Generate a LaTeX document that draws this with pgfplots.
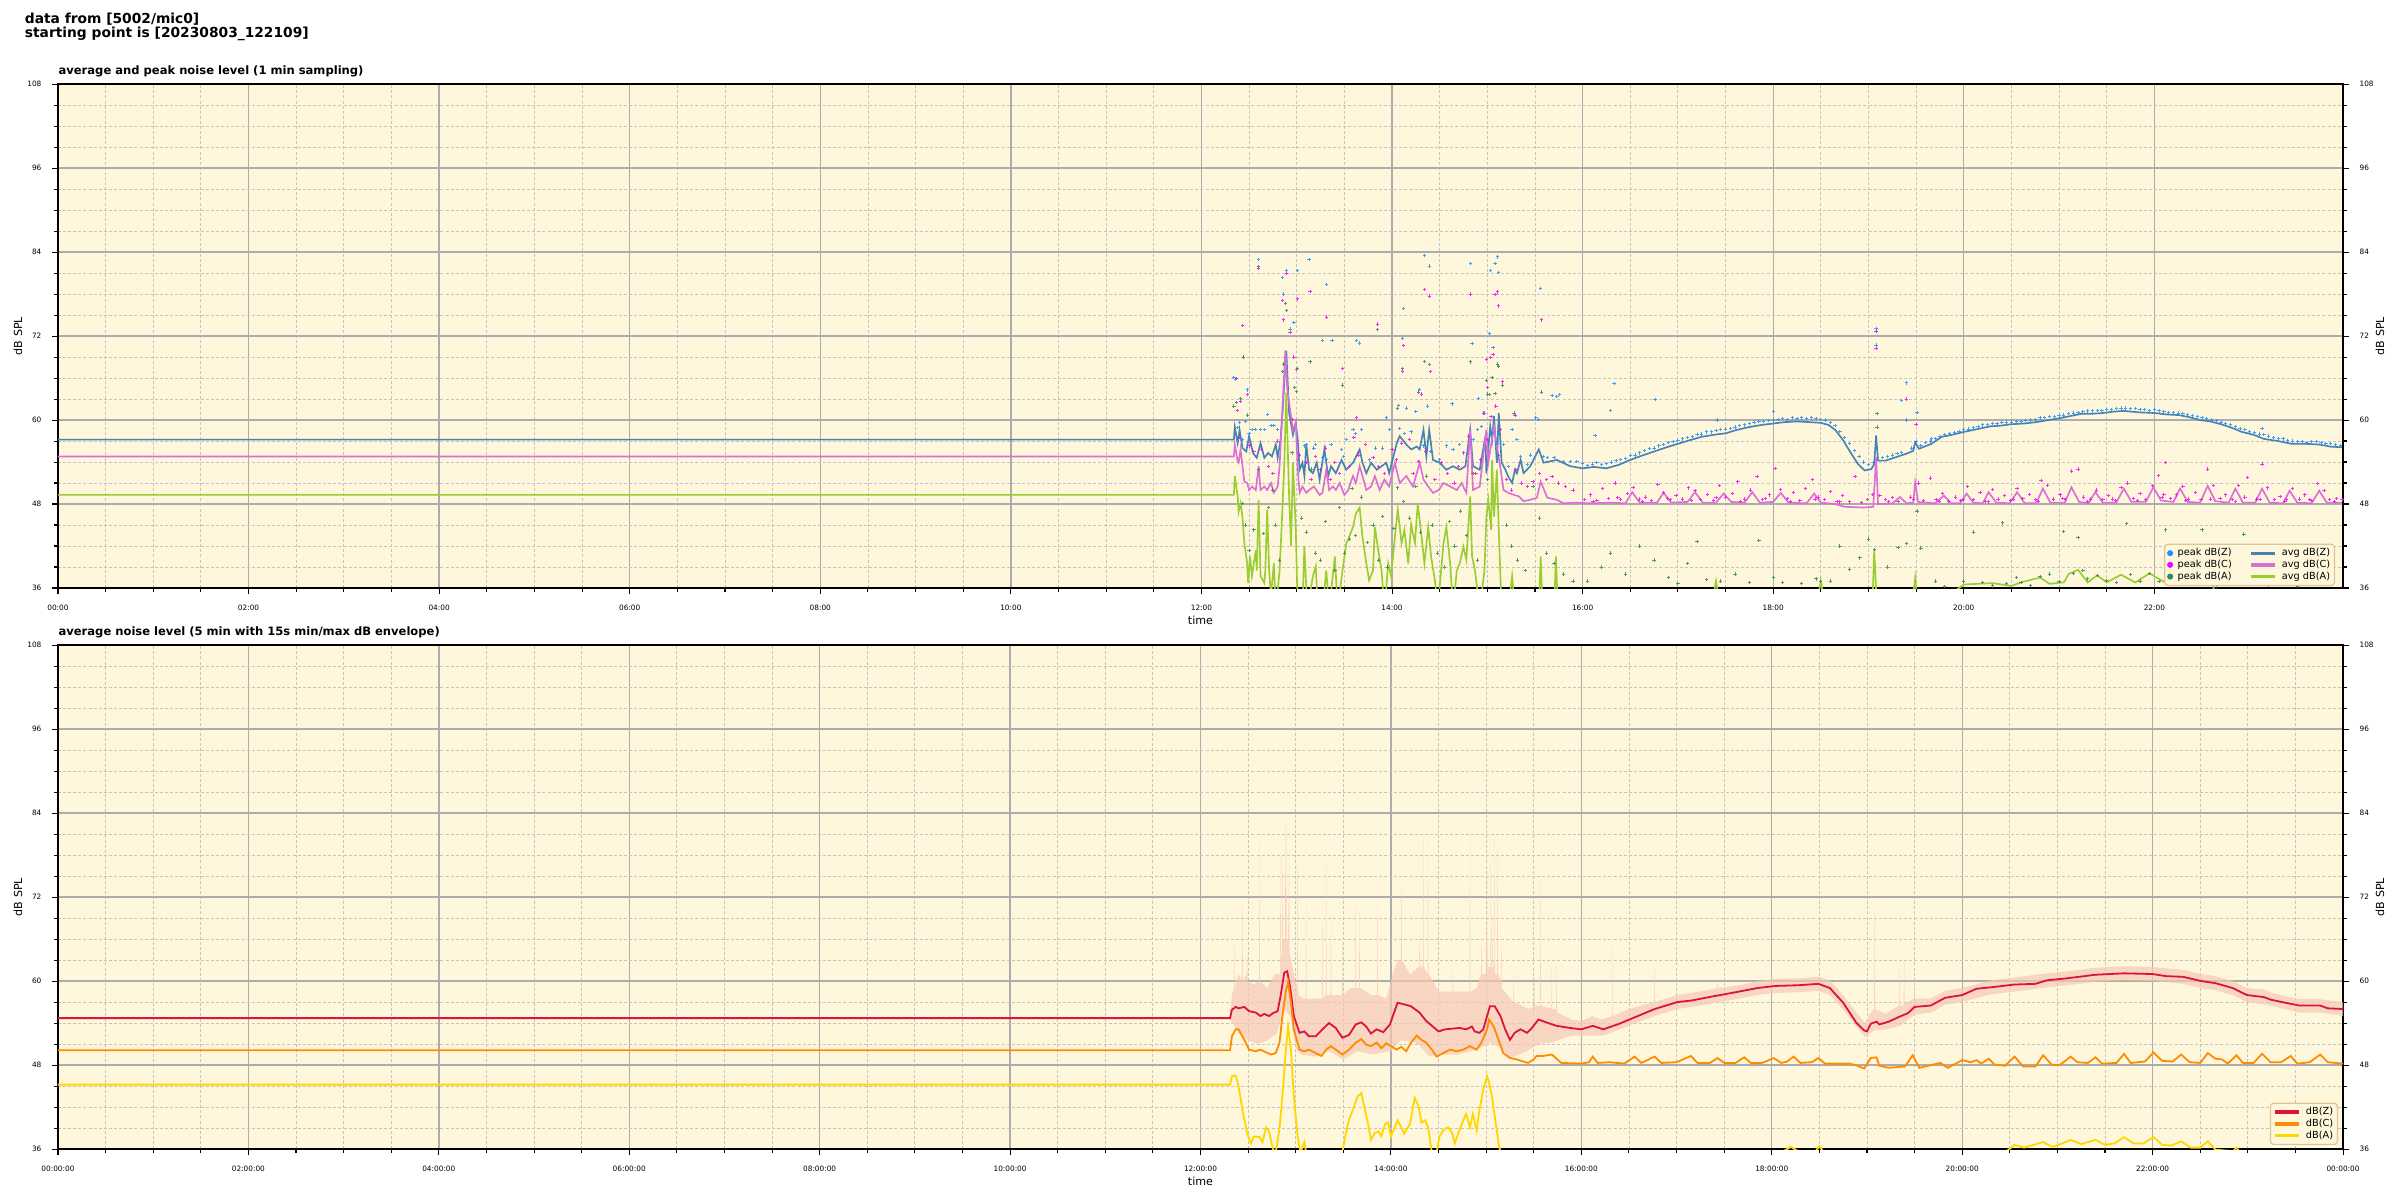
\documentclass[border=0pt]{standalone}
\usepackage{fontspec}
\setmainfont{DejaVu Sans}
\usepackage{pgfplots}
\pgfplotsset{compat=1.18}
\usepgfplotslibrary{fillbetween}
\definecolor{bgc}{RGB}{255,247,220}
\definecolor{majgrid}{RGB}{172,172,172}
\definecolor{mingrid}{RGB}{196,196,196}
\definecolor{legbrd}{RGB}{222,196,150}
\definecolor{avgZ}{RGB}{70,130,180}
\definecolor{avgC}{RGB}{218,112,214}
\definecolor{avgA}{RGB}{154,205,50}
\definecolor{pkZ}{RGB}{30,144,255}
\definecolor{pkC}{RGB}{255,0,255}
\definecolor{pkA}{RGB}{46,139,87}
\definecolor{dbZ}{RGB}{220,20,60}
\definecolor{dbC}{RGB}{255,140,0}
\definecolor{dbA}{RGB}{255,215,0}
\definecolor{env}{RGB}{246,200,182}
\pgfplotsset{
 every axis title shift=0pt,
 myaxis/.style={
  scale only axis, width=761.67pt, height=168pt,
  xmin=0, ymin=36, ymax=108,
  axis background/.style={fill=bgc},
  grid=both,
  major grid style={draw=majgrid, line width=0.45pt},
  minor grid style={draw=mingrid, line width=0.3pt, dash pattern=on 1pt off 0.7pt},
  tick align=outside, xtick pos=bottom, ytick pos=left,
  major tick length=2pt, minor tick length=1.2pt,
  every tick/.style={black, line width=0.35pt},
  minor x tick num=3, minor y tick num=3,
  ytick={36,48,60,72,84,96,108},
  axis line style={line width=0.5pt},
  ticklabel style={font=\fontsize{2.45}{3}\selectfont},
  /pgf/number format/assume math mode=true,
  xlabel=time, ylabel={dB SPL},
  every axis x label/.style={at={(axis description cs:0.5,0)}, anchor=center, yshift=-10.7pt, font=\fontsize{3.7}{4.4}\selectfont},
  every axis y label/.style={at={(axis description cs:0,0.5)}, xshift=-13.3pt, rotate=90, anchor=center, font=\fontsize{3.7}{4.4}\selectfont},
  title style={at={(axis description cs:0,1)}, anchor=base west, yshift=3.3pt, inner sep=0pt, font=\bfseries\fontsize{3.85}{4.5}\selectfont},
  legend cell align=left,
  legend image code/.code={\draw[mark repeat=2,mark phase=2] plot coordinates {(0pt,0pt) (4pt,0pt) (8pt,0pt)};},
  legend style={fill=bgc, draw=legbrd, rounded corners=1pt, line width=0.4pt,
    font=\fontsize{3.25}{3.8}\selectfont, inner sep=1pt, row sep=0pt,
    nodes={inner sep=0.4pt, text height=2.4pt, text depth=0.7pt},
    /tikz/every odd column/.style={column sep=1.3pt},
    /tikz/every even column/.style={column sep=5.5pt}},
 },
 rightaxis/.style={
  scale only axis, width=761.67pt, height=168pt,
  xmin=0, xmax=1, ymin=36, ymax=108,
  xtick=\empty, ytick pos=right, yticklabel pos=right,
  axis line style={draw=none},
  tick align=outside, major tick length=2pt, minor tick length=1.2pt,
  every tick/.style={black, line width=0.35pt},
  minor y tick num=3, ytick={36,48,60,72,84,96,108},
  ticklabel style={font=\fontsize{2.45}{3}\selectfont},
  /pgf/number format/assume math mode=true,
  ylabel={dB SPL},
  every axis y label/.style={at={(axis description cs:1,0.5)}, xshift=12.3pt, rotate=90, anchor=center, font=\fontsize{3.7}{4.4}\selectfont},
 },
 pk/.style={only marks, mark=+, mark size=0.55pt, mark options={line width=0.3pt}, opacity=0.85},
}
\begin{document}
\begin{tikzpicture}
\node[anchor=base west, inner sep=0pt, font=\bfseries\fontsize{4.6}{5}\selectfont] at (8.1pt,-7.78pt) {data from [5002/mic0]};
\node[anchor=base west, inner sep=0pt, font=\bfseries\fontsize{4.6}{5}\selectfont] at (8.1pt,-12.56pt) {starting point is [20230803\_122109]};
% ================= TOP =================
\begin{axis}[myaxis, at={(19.33pt,-196pt)}, anchor=south west, xmax=23.98,
  xtick={0,2,4,6,8,10,12,14,16,18,20,22},
  xticklabels={00:00,02:00,04:00,06:00,08:00,10:00,12:00,14:00,16:00,18:00,20:00,22:00},
  title={average and peak noise level (1 min sampling)},
  legend columns=2,
  legend style={at={(0.9965,0.004)}, anchor=south east}]
% peak dB(Z)
\addplot[pk, pkZ, forget plot] coordinates {
(12.34,66.1)(12.36,65.8)(12.38,58.9)(12.40,59.6)(12.43,57.2)(12.46,59.8)(12.48,64.3)(12.50,58.1)(12.53,58.6)(12.57,58.6)(12.60,82.9)(12.62,58.6)(12.66,58.6)(12.69,60.8)(12.73,59.2)(12.76,59.2)(12.80,58.6)
(12.85,80.4)(12.86,78.0)(12.89,81.4)(12.93,73.0)(12.97,73.9)(13.01,81.4)(13.08,56.3)(13.10,56.5)(13.13,82.9)(13.18,56.0)(13.20,56.5)(13.27,71.4)(13.27,54.6)(13.31,79.4)(13.31,54.3)(13.36,56.5)(13.37,71.4)
(13.47,55.8)(13.49,54.8)(13.52,57.2)(13.59,58.6)(13.62,58.1)(13.63,71.4)(13.66,71.0)(13.68,58.6)(13.76,54.3)(13.83,56.0)(13.90,56.0)(13.94,60.3)(13.97,58.6)(14.07,62.1)(14.08,58.8)(14.11,71.6)(14.12,75.9)
(14.13,58.1)(14.15,61.7)(14.20,58.3)(14.25,61.2)(14.29,64.4)(14.33,56.3)(14.34,83.5)(14.37,62.0)(14.39,82.0)(14.40,55.5)(14.50,54.3)(14.57,56.3)(14.63,62.3)(14.64,55.8)(14.71,56.5)(14.82,82.4)(14.84,70.9)
(14.85,57.2)(14.90,58.6)(14.91,63.1)(14.94,59.1)(14.97,61.0)(15.02,72.4)(15.03,81.4)(15.05,58.1)(15.06,70.4)(15.08,82.4)(15.10,56.7)(15.11,83.3)(15.12,81.1)(15.17,56.5)(15.22,53.4)(15.26,58.6)(15.31,57.2)
(15.35,54.8)(15.42,53.6)(15.45,55.0)(15.51,60.3)(15.54,60.1)(15.56,78.8)(15.59,54.8)(15.63,54.6)(15.68,63.5)(15.70,54.6)(15.73,63.4)(15.76,63.6)(15.80,54.1)(15.87,54.1)(15.94,54.1)
(16.13,57.8)(16.29,61.4)(16.33,65.2)(16.76,62.9)(17.41,60.0)(18.00,61.2)(19.08,73.1)(19.08,72.6)(19.08,70.7)(19.35,62.8)(19.40,65.3)(19.40,60.0)(19.51,61.1)(19.66,57.3)(23.13,58.8)
(16.00,53.8)(16.05,53.5)(16.10,53.7)(16.15,53.9)(16.20,53.6)(16.25,53.8)(16.30,54.0)(16.35,54.2)(16.40,54.4)(16.45,54.5)(16.50,54.9)(16.55,55.0)(16.60,55.3)(16.65,55.6)(16.70,55.9)(16.75,56.0)
(16.80,56.3)(16.85,56.5)(16.90,56.8)(16.95,56.9)(17.00,57.1)(17.05,57.3)(17.10,57.5)(17.15,57.6)(17.20,57.9)(17.25,58.0)(17.30,58.3)(17.35,58.3)(17.40,58.5)(17.45,58.6)(17.50,58.7)(17.55,58.8)
(17.60,59.0)(17.65,59.2)(17.70,59.3)(17.75,59.5)(17.80,59.6)(17.85,59.8)(17.90,59.8)(17.95,59.9)(18.00,60.0)(18.05,60.1)(18.10,60.2)(18.15,60.1)(18.20,60.3)(18.25,60.2)(18.30,60.3)(18.35,60.2)
(18.40,60.3)(18.45,60.2)(18.50,60.1)(18.55,60.0)(18.60,59.6)(18.65,59.2)(18.70,58.4)(18.75,57.5)(18.80,56.6)(18.85,55.6)(18.90,54.8)(18.95,54.0)(19.00,53.6)(19.05,53.9)(19.15,54.6)(19.20,54.8)
(19.25,55.0)(19.30,55.2)(19.35,55.4)(19.45,56.0)(19.50,56.9)(19.55,56.4)(19.60,56.8)(19.65,57.0)(19.70,57.3)(19.75,57.6)(19.80,57.9)(19.85,58.1)(19.90,58.2)(19.95,58.4)(20.00,58.6)(20.05,58.7)
(20.10,58.9)(20.15,59.1)(20.20,59.3)(20.25,59.4)(20.30,59.5)(20.35,59.5)(20.40,59.6)(20.45,59.7)(20.50,59.7)(20.55,59.8)(20.60,59.8)(20.65,59.9)(20.70,60.0)(20.75,60.1)(20.80,60.3)(20.85,60.4)
(20.90,60.5)(20.95,60.5)(21.00,60.6)(21.05,60.7)(21.10,60.9)(21.15,61.0)(21.20,61.1)(21.25,61.2)(21.30,61.3)(21.35,61.3)(21.40,61.4)(21.45,61.4)(21.50,61.5)(21.55,61.5)(21.60,61.6)(21.65,61.7)
(21.70,61.7)(21.75,61.6)(21.80,61.6)(21.85,61.5)(21.90,61.5)(21.95,61.4)(22.00,61.5)(22.05,61.3)(22.10,61.2)(22.15,61.1)(22.20,61.1)(22.25,61.0)(22.30,60.9)(22.35,60.8)(22.40,60.6)(22.45,60.5)
(22.50,60.3)(22.55,60.2)(22.60,60.0)(22.65,59.9)(22.70,59.7)(22.75,59.5)(22.80,59.3)(22.85,59.1)(22.90,58.8)(22.95,58.6)(23.00,58.4)(23.05,58.2)(23.10,58.0)(23.15,57.9)(23.20,57.7)(23.25,57.5)
(23.30,57.4)(23.35,57.3)(23.40,57.1)(23.45,57.0)(23.50,56.9)(23.55,56.9)(23.60,56.8)(23.65,56.9)(23.70,56.9)(23.75,56.8)(23.80,56.6)(23.85,56.6)(23.90,56.5)(23.95,56.4)
};
% peak dB(C)
\addplot[pk, pkC, forget plot] coordinates {
(12.37,65.9)(12.38,61.4)(12.41,62.7)(12.43,73.5)(12.44,69.0)(12.48,63.6)(12.60,81.7)(12.85,77.1)(12.86,74.3)(12.89,80.9)(12.93,72.5)(12.97,69.0)(13.00,67.2)(13.01,77.3)(13.14,78.4)(13.31,74.7)
(13.48,67.4)(13.63,60.3)(13.85,73.7)(14.11,67.0)(14.12,70.6)(14.31,63.7)(14.34,78.6)(14.39,77.7)(14.40,66.9)(14.82,78.0)(14.96,61.0)(14.99,68.6)(15.00,64.6)(15.03,68.9)(15.06,69.4)(15.08,77.9)
(15.11,78.3)(15.12,76.3)(15.16,65.5)(15.29,60.6)(15.57,74.3)
(12.40,57.5)(12.50,56.3)(12.55,55.5)(12.63,55.8)(12.70,53.4)(12.75,52.4)(12.80,57.0)(12.95,60.1)(13.03,55.0)(13.10,53.9)(13.15,51.5)(13.20,54.8)(13.25,52.9)(13.30,56.0)(13.35,51.5)(13.40,53.9)
(13.45,52.4)(13.55,53.4)(13.60,57.5)(13.65,55.0)(13.72,56.5)(13.80,54.6)(13.86,53.4)(13.92,52.4)(14.00,55.8)(14.05,54.3)(14.10,56.7)(14.18,57.2)(14.22,52.4)(14.28,54.1)(14.35,55.5)(14.45,51.5)
(14.52,53.9)(14.58,52.4)(14.65,51.0)(14.70,53.4)(14.75,55.3)(14.80,57.7)(14.88,52.4)(14.93,54.3)(15.00,57.2)(15.04,60.5)(15.09,62.0)(15.14,58.6)(15.20,51.5)(15.25,50.0)(15.30,52.9)(15.36,51.0)
(15.42,50.5)(15.48,51.2)(15.55,52.4)(15.62,51.5)(15.68,51.9)(15.75,51.0)(15.82,50.5)(15.90,50.0)
(16.02,48.6)(16.08,49.3)(16.15,48.5)(16.21,50.2)(16.27,48.8)(16.34,51.0)(16.40,48.6)(16.47,49.5)(16.53,50.4)(16.60,48.7)(16.66,49.0)(16.72,48.5)(16.79,50.8)(16.85,49.6)(16.92,48.6)(16.98,49.2)
(17.05,48.7)(17.11,50.3)(17.18,49.9)(17.24,48.6)(17.31,49.4)(17.37,48.5)(17.44,50.6)(17.50,48.9)(17.57,49.5)(17.63,51.2)(17.70,48.7)(17.76,50.0)(17.83,51.9)(17.89,48.6)(17.96,49.3)(18.02,53.1)
(18.08,50.1)(18.15,48.8)(18.21,49.6)(18.28,48.5)(18.34,50.2)(18.41,51.5)(18.47,49.0)(18.54,48.6)(18.60,49.8)(18.67,48.4)(18.73,49.2)(18.80,48.3)(18.86,51.9)(18.93,48.2)(18.99,48.6)(19.04,49.4)
(19.08,72.7)(19.08,70.2)(19.12,49.2)(19.18,48.6)(19.25,48.9)(19.31,48.4)(19.40,63.0)(19.44,49.0)(19.50,59.4)(19.52,51.0)(19.58,48.5)(19.65,51.7)(19.71,48.6)(19.78,49.5)(19.84,48.4)(19.91,49.0)
(19.97,48.5)(20.04,50.5)(20.10,48.6)(20.17,49.6)(20.23,48.4)(20.30,50.1)(20.36,48.7)(20.43,49.2)(20.49,48.5)(20.56,50.2)(20.62,48.8)(20.69,49.4)(20.75,48.6)(20.81,51.4)(20.88,50.6)(20.94,48.7)
(21.01,49.3)(21.07,48.6)(21.13,52.7)(21.20,53.0)(21.26,49.0)(21.33,48.7)(21.39,50.0)(21.46,48.6)(21.52,49.2)(21.59,48.5)(21.65,50.4)(21.72,51.0)(21.78,48.8)(21.85,49.5)(21.91,48.6)(21.98,50.6)
(22.04,52.1)(22.10,49.4)(22.12,53.9)(22.17,48.8)(22.23,49.3)(22.30,50.5)(22.36,48.7)(22.43,49.6)(22.49,48.6)(22.56,53.0)(22.62,50.6)(22.69,48.8)(22.75,49.3)(22.82,48.6)(22.88,50.6)(22.95,49.0)
(22.98,51.8)(23.07,48.7)(23.13,53.7)(23.19,50.3)(23.26,48.6)(23.32,49.1)(23.39,48.6)(23.45,50.2)(23.52,48.7)(23.58,49.3)(23.65,48.5)(23.71,50.9)(23.78,49.9)(23.84,48.6)(23.91,48.8)(23.97,48.6)
(16.11,48.4)(16.37,48.9)(16.63,48.4)(16.89,48.8)(17.14,48.5)(17.40,48.9)(17.66,48.4)(17.92,48.8)(18.18,48.4)(18.44,48.7)(18.70,48.3)(19.21,48.4)(19.47,48.7)(19.74,48.4)(20.00,48.6)(20.26,48.3)
(20.52,48.7)(20.78,48.4)(21.04,48.8)(21.30,48.4)(21.56,48.7)(21.82,48.5)(22.08,48.9)(22.33,48.5)(22.59,48.7)(22.85,48.4)(23.11,48.6)(23.37,48.4)(23.63,48.6)(23.89,48.4)
};
% peak dB(A)
\addplot[pk, pkA, forget plot] coordinates {
(12.34,62.0)(12.37,62.5)(12.41,63.1)(12.44,69.0)(12.48,60.7)(12.60,81.9)(12.85,66.9)(12.86,68.0)(12.88,76.6)(12.89,75.6)(12.98,64.6)(13.00,64.1)(13.01,67.4)(13.14,68.3)(13.48,65.0)(13.85,72.9)
(14.06,61.6)(14.11,67.4)(14.28,64.0)(14.34,68.4)(14.39,67.9)(14.82,68.3)(14.99,65.6)(15.00,63.7)(15.02,63.6)(15.05,66.1)(15.08,63.8)(15.11,68.0)(15.12,67.7)(15.16,65.0)(15.28,61.0)(15.57,64.0)
(12.43,48.1)(12.46,45.0)(12.50,41.4)(12.55,44.3)(12.60,52.9)(12.65,43.8)(12.70,47.5)(12.75,50.0)(12.78,45.0)(12.82,40.0)(12.95,55.3)(13.05,46.0)(13.10,44.0)(13.15,53.0)(13.20,41.0)(13.25,40.0)
(13.30,45.5)(13.40,38.5)(13.45,47.5)(13.50,41.0)(13.55,43.0)(13.58,50.2)(13.62,43.5)(13.68,49.0)(13.74,42.5)(13.80,45.0)(13.86,40.0)(13.90,46.2)(13.95,39.0)(14.02,44.5)(14.06,50.3)(14.12,48.4)
(14.18,46.0)(14.25,50.5)(14.30,44.0)(14.36,52.0)(14.42,45.0)(14.48,41.0)(14.55,39.0)(14.60,45.5)(14.66,42.0)(14.72,47.0)(14.78,43.5)(14.85,52.4)(14.90,40.0)(15.00,51.5)(15.12,55.0)(15.20,45.0)
(15.25,42.0)(15.32,40.0)(15.40,38.5)(15.48,50.5)(15.55,46.0)(15.62,41.0)(15.70,39.5)(15.80,38.0)(15.90,37.0)
(16.05,37.0)(16.20,39.0)(16.29,41.0)(16.45,38.0)(16.60,42.0)(16.75,40.0)(16.90,37.5)(17.00,36.6)(17.10,39.5)(17.20,42.6)(17.30,37.2)(17.45,37.0)(17.60,38.0)(17.75,36.8)(17.85,42.8)(18.00,37.5)
(18.10,36.8)(18.30,36.6)(18.45,37.3)(18.50,36.9)(18.60,37.0)(18.70,42.0)(18.80,38.6)(18.91,40.3)(19.00,43.0)(19.06,41.5)(19.09,60.9)(19.09,59.0)(19.20,39.0)(19.31,41.8)(19.40,42.4)(19.51,47.0)
(19.55,41.7)(19.70,37.0)(19.80,36.2)(20.00,37.0)(20.10,44.0)(20.20,36.8)(20.30,36.3)(20.41,45.3)(20.45,36.6)(20.55,37.5)(20.60,36.8)(20.70,36.4)(20.80,37.6)(20.90,38.0)(21.00,36.9)(21.05,44.1)
(21.15,38.1)(21.20,43.2)(21.25,38.5)(21.30,37.3)(21.40,37.8)(21.50,37.1)(21.60,36.8)(21.71,45.2)(21.75,37.9)(21.85,37.0)(21.95,38.1)(22.05,36.9)(22.12,44.3)(22.20,37.3)(22.30,37.2)(22.40,36.6)
(22.50,44.3)(22.55,36.8)(22.65,36.3)(22.94,43.7)(23.20,36.4)(23.50,36.2)
};
% avg dB(Z)
\addplot[avgZ, line width=0.55pt, forget plot] coordinates {
(0,57.2)(12.34,57.2)(12.35,59.0)(12.38,56.7)(12.40,58.6)(12.43,56.0)(12.47,55.5)(12.50,57.7)(12.54,55.3)(12.58,54.6)(12.62,56.7)(12.66,54.6)(12.70,55.3)(12.74,54.8)(12.78,56.5)(12.80,54.6)
(12.83,57.2)(12.85,61.0)(12.89,69.9)(12.92,61.0)(12.96,57.9)(12.99,59.6)(13.01,57.2)(13.03,52.9)(13.06,53.9)(13.08,52.0)(13.10,56.5)(13.13,52.9)(13.17,52.4)(13.21,53.9)(13.24,51.5)(13.29,55.8)
(13.33,52.0)(13.36,53.4)(13.41,52.4)(13.47,54.3)(13.52,52.9)(13.59,53.9)(13.66,55.8)(13.69,53.9)(13.73,52.4)(13.78,53.9)(13.84,52.9)(13.89,53.4)(13.94,53.9)(13.97,52.4)(14.05,56.7)(14.08,57.7)
(14.15,56.5)(14.20,55.8)(14.26,56.2)(14.29,55.8)(14.33,58.6)(14.36,54.8)(14.39,58.6)(14.43,54.3)(14.50,53.9)(14.57,52.9)(14.64,53.4)(14.71,52.9)(14.77,53.4)(14.82,58.6)(14.85,53.4)(14.92,52.9)
(14.98,57.7)(14.99,52.4)(15.03,59.1)(15.05,57.2)(15.07,60.6)(15.10,53.9)(15.12,61.0)(15.15,53.9)(15.19,52.9)(15.22,51.9)(15.26,51.0)(15.29,52.9)(15.31,52.4)(15.35,54.3)(15.38,52.4)(15.45,53.4)
(15.54,55.8)(15.59,53.9)(15.66,54.1)(15.73,54.3)(15.87,53.4)(16.00,53.1)(16.12,53.3)(16.25,53.1)(16.38,53.6)(16.50,54.3)(16.62,54.9)(16.75,55.5)(16.88,56.1)(17.00,56.6)(17.12,57.1)(17.25,57.6)
(17.38,57.9)(17.50,58.1)(17.62,58.6)(17.75,59.0)(17.88,59.3)(18.00,59.5)(18.12,59.7)(18.25,59.8)(18.38,59.7)(18.50,59.6)(18.58,59.3)(18.65,58.6)(18.73,57.2)(18.81,55.4)(18.89,53.7)(18.96,52.8)
(19.03,53.0)(19.06,53.7)(19.08,57.8)(19.10,54.2)(19.18,54.2)(19.29,54.7)(19.40,55.2)(19.47,55.6)(19.49,56.8)(19.53,55.9)(19.66,56.6)(19.77,57.6)(19.88,57.9)(20.00,58.3)(20.14,58.7)(20.28,59.1)
(20.39,59.2)(20.50,59.4)(20.63,59.5)(20.76,59.7)(20.89,60.0)(21.02,60.3)(21.13,60.6)(21.24,60.9)(21.35,60.9)(21.46,61.0)(21.57,61.2)(21.68,61.3)(21.84,61.1)(22.00,61.0)(22.13,60.8)(22.26,60.7)
(22.37,60.4)(22.48,60.0)(22.59,59.8)(22.70,59.4)(22.81,58.9)(22.92,58.3)(23.04,57.9)(23.15,57.3)(23.30,57.0)(23.44,56.6)(23.58,56.6)(23.73,56.5)(23.85,56.2)(23.97,56.1)
};
% avg dB(C)
\addplot[avgC, line width=0.55pt, forget plot] coordinates {
(0,54.8)(12.34,54.8)(12.35,56.5)(12.38,54.1)(12.39,53.9)(12.41,55.8)(12.45,51.2)(12.48,51.0)(12.50,50.0)(12.53,50.5)(12.57,50.0)(12.60,53.4)(12.62,50.0)(12.66,50.5)(12.69,50.0)(12.73,51.0)
(12.76,49.6)(12.80,50.5)(12.82,53.4)(12.88,69.9)(12.90,64.4)(12.96,58.6)(12.99,59.6)(13.01,52.9)(13.03,49.6)(13.06,50.5)(13.10,49.6)(13.13,50.0)(13.18,50.5)(13.24,49.3)(13.27,49.6)(13.31,52.9)
(13.34,50.0)(13.38,50.5)(13.41,50.0)(13.45,51.0)(13.50,49.3)(13.54,50.0)(13.59,52.0)(13.62,51.0)(13.66,53.4)(13.69,52.0)(13.73,50.0)(13.78,50.5)(13.82,52.0)(13.87,50.0)(13.92,51.5)(13.97,50.5)
(14.03,53.9)(14.08,51.0)(14.15,52.0)(14.22,50.5)(14.29,53.9)(14.33,51.5)(14.38,50.5)(14.43,49.6)(14.49,50.0)(14.54,51.0)(14.61,50.5)(14.68,50.0)(14.73,51.0)(14.78,49.6)(14.82,58.6)(14.85,50.0)
(14.92,50.5)(14.99,58.6)(15.01,53.9)(15.07,59.1)(15.10,56.3)(15.14,52.9)(15.17,50.0)(15.22,49.6)(15.28,49.3)(15.33,49.1)(15.38,48.4)(15.45,48.6)(15.52,48.9)(15.56,51.2)(15.63,48.9)(15.73,48.6)
(15.80,48.1)(15.91,48.2)(16.08,48.1)(16.30,48.2)(16.45,48.1)(16.52,49.7)(16.60,48.2)(16.78,48.2)(16.85,49.6)(16.93,48.2)(17.10,48.3)(17.18,49.7)(17.26,48.2)(17.40,48.2)(17.48,49.5)(17.56,48.3)
(17.70,48.2)(17.78,49.7)(17.86,48.2)(18.00,48.3)(18.08,49.6)(18.16,48.2)(18.35,48.1)(18.43,49.5)(18.50,48.2)(18.65,48.0)(18.75,47.6)(18.95,47.5)(19.05,47.6)(19.08,54.7)(19.10,48.0)(19.25,48.1)
(19.33,49.0)(19.40,48.1)(19.47,48.2)(19.49,51.1)(19.52,48.3)(19.70,48.1)(19.79,49.2)(19.87,48.1)(19.96,48.1)(20.03,49.5)(20.10,48.2)(20.20,48.1)(20.26,49.7)(20.34,48.2)(20.48,48.1)(20.56,49.7)
(20.64,48.1)(20.76,48.1)(20.83,50.2)(20.91,48.2)(21.06,48.2)(21.13,50.4)(21.21,48.3)(21.31,48.1)(21.38,49.7)(21.46,48.2)(21.60,48.2)(21.68,50.2)(21.76,48.3)(21.91,48.3)(21.99,50.4)(22.07,48.5)
(22.20,48.3)(22.27,50.2)(22.35,48.3)(22.48,48.2)(22.56,50.6)(22.64,48.4)(22.78,48.2)(22.85,50.2)(22.93,48.2)(23.06,48.2)(23.13,50.2)(23.21,48.2)(23.35,48.1)(23.42,49.9)(23.50,48.2)(23.65,48.1)
(23.73,49.9)(23.81,48.2)(23.97,48.2)
};
% avg dB(A)
\addplot[avgA, line width=0.55pt, forget plot] coordinates {
(0,49.3)(12.34,49.3)(12.35,52.0)(12.38,49.1)(12.39,46.9)(12.41,48.1)(12.43,46.2)(12.45,42.4)(12.48,39.5)(12.49,36.7)(12.51,40.5)(12.53,37.7)(12.57,41.4)(12.58,38.5)(12.60,48.6)(12.62,37.7)
(12.66,36.7)(12.67,38.5)(12.69,47.2)(12.71,38.5)(12.73,35)(12.76,39.5)(12.78,33)(12.82,38.5)(12.84,44.3)(12.87,53.9)(12.89,63.9)(12.90,58.6)(12.92,49.1)(12.94,42.0)(12.96,53.9)(12.99,44.3)
(13.01,33)(13.06,33)(13.08,42.0)(13.11,33)(13.17,37.7)(13.20,39.1)(13.22,33)(13.27,33)(13.31,38.5)(13.34,33)(13.40,40.5)(13.43,33)(13.48,38.5)(13.52,42.4)(13.55,43.3)(13.59,44.7)
(13.62,46.6)(13.66,47.5)(13.69,43.3)(13.73,39.5)(13.76,37.1)(13.80,38.5)(13.82,44.7)(13.85,41.9)(13.89,38.5)(13.92,33)(13.96,39.5)(13.99,37.7)(14.03,43.3)(14.06,47.2)(14.10,42.4)(14.13,44.3)
(14.17,39.5)(14.20,45.1)(14.24,42.4)(14.27,48.1)(14.31,43.3)(14.34,39.5)(14.38,44.7)(14.41,40.5)(14.45,37.1)(14.48,33)(14.54,42.4)(14.57,44.7)(14.61,39.5)(14.64,33)(14.68,38.5)(14.71,39.5)
(14.75,41.9)(14.78,40.0)(14.82,49.1)(14.84,40.5)(14.87,38.5)(14.92,33)(14.97,38.5)(14.99,46.2)(15.01,48.6)(15.04,44.3)(15.05,54.3)(15.07,46.2)(15.10,52.9)(15.12,44.3)(15.15,33)(15.22,33)
(15.26,37.7)(15.29,33)(15.54,33)(15.56,40.5)(15.58,33)(15.70,33)(15.72,40.5)(15.74,33)(17.35,33)(17.40,37.0)(17.45,33)(18.45,33)(18.50,37.0)(18.55,33)(19.04,33)(19.06,41.4)
(19.09,33)(19.45,33)(19.49,37.5)(19.52,33)(19.90,35.5)(20.00,36.5)(20.30,36.7)(20.50,36.3)(20.60,36.8)(20.80,37.5)(20.90,36.6)(21.05,36.8)(21.10,38.0)(21.20,38.6)(21.30,36.8)(21.40,37.8)
(21.50,36.8)(21.65,37.9)(21.80,36.8)(21.95,38.1)(22.10,36.9)(22.30,37.2)(22.50,36.5)(22.60,36.8)(22.70,33)(23.97,33)
};
\addlegendimage{only marks, mark=*, mark size=0.8pt, pkZ}
\addlegendentry{peak dB(Z)}
\addlegendimage{avgZ, line width=1.1pt}
\addlegendentry{avg dB(Z)}
\addlegendimage{only marks, mark=*, mark size=0.8pt, pkC}
\addlegendentry{peak dB(C)}
\addlegendimage{avgC, line width=1.1pt}
\addlegendentry{avg dB(C)}
\addlegendimage{only marks, mark=*, mark size=0.8pt, pkA}
\addlegendentry{peak dB(A)}
\addlegendimage{avgA, line width=1.1pt}
\addlegendentry{avg dB(A)}
\end{axis}
\begin{axis}[rightaxis, at={(19.33pt,-196pt)}, anchor=south west]
\addplot[draw=none] coordinates {(0,40)(1,40)};
\end{axis}
% ================= BOTTOM =================
\begin{axis}[myaxis, at={(19.33pt,-383pt)}, anchor=south west, xmax=24,
  xtick={0,2,4,6,8,10,12,14,16,18,20,22,24},
  xticklabels={00:00:00,02:00:00,04:00:00,06:00:00,08:00:00,10:00:00,12:00:00,14:00:00,16:00:00,18:00:00,20:00:00,22:00:00,00:00:00},
  title={average noise level (5 min with 15s min/max dB envelope)},
  legend style={at={(0.9978,0.008)}, anchor=south east}]
\addplot[draw=none, name path=up, forget plot] coordinates {
(12.31,55.5)(12.33,58)(12.35,59)(12.355,66.0)(12.36,59)(12.40,61)(12.435,60)(12.44,73.6)(12.445,60)(12.485,61)(12.49,64.3)(12.495,60)(12.56,59.5)(12.615,60)(12.62,80.8)(12.625,60)
(12.70,59)(12.78,61)(12.835,61)(12.84,77.9)(12.845,63)(12.855,64)(12.86,80.3)(12.865,66)(12.885,66)(12.89,82.5)(12.895,66)(12.90,83)(12.905,66)(12.92,66)(12.93,78)(12.935,64)
(12.98,61)(13.015,59)(13.02,82.5)(13.025,58)(13.08,57.5)(13.105,57.5)(13.11,72.2)(13.115,57.5)(13.20,57.5)(13.275,57.5)(13.28,71.5)(13.285,57.5)(13.315,58)(13.32,79.6)(13.325,58)(13.365,58)
(13.37,71.5)(13.375,58)(13.45,58)(13.485,58)(13.49,67.6)(13.495,58)(13.58,59)(13.625,59)(13.63,71.7)(13.635,59)(13.665,59)(13.67,70.0)(13.675,59)(13.80,58)(13.855,58)(13.86,73.9)
(13.865,58)(13.95,57.5)(14.02,61)(14.07,63)(14.105,63)(14.11,76.0)(14.115,63)(14.20,61)(14.295,62)(14.30,67)(14.305,62)(14.335,62)(14.34,82.5)(14.345,62)(14.385,61)(14.39,83)
(14.395,61)(14.44,60)(14.50,58.5)(14.60,58.5)(14.645,58.5)(14.65,62)(14.655,58.5)(14.79,58.5)(14.825,58.5)(14.83,83)(14.835,58.5)(14.90,59)(14.945,61)(14.95,66)(14.955,61)(14.995,61)
(15.00,68.8)(15.005,62)(15.01,83)(15.015,62)(15.045,62)(15.05,83)(15.055,62)(15.065,62)(15.07,70)(15.075,62)(15.085,62)(15.09,83)(15.095,61)(15.115,61)(15.12,82)(15.125,61)
(15.155,60)(15.16,66.0)(15.165,59)(15.285,57)(15.29,61.0)(15.295,57)(15.45,56)(15.505,56.5)(15.51,60.7)(15.515,56.5)(15.565,56.5)(15.57,78.9)(15.575,56.5)(15.685,56)(15.69,63.5)(15.695,56)
(15.735,56)(15.74,63.0)(15.745,55.5)(15.90,54.5)(16.00,54.3)(16.12,55)(16.20,54.5)(16.325,55)(16.33,65.4)(16.335,55)(16.50,56)(16.765,57)(16.77,63.0)(16.775,57)(17.00,58.0)(17.20,58.4)
(17.425,59)(17.43,60.2)(17.435,59)(17.70,59.5)(17.85,60.0)(17.995,60.2)(18.00,61.1)(18.005,60.3)(18.30,60.4)(18.50,60.6)(18.62,60.0)(18.75,58)(18.89,55.5)(18.98,54.0)(19.04,55.5)(19.075,56)
(19.08,73.3)(19.085,56)(19.20,55.3)(19.335,56.5)(19.34,62.8)(19.345,56.5)(19.385,56.5)(19.39,65.4)(19.395,56.8)(19.495,57.5)(19.50,61.1)(19.505,57.5)(19.67,57.5)(19.82,58.6)(20.00,59.0)(20.30,60.1)
(20.55,60.5)(20.89,61.1)(21.11,61.4)(21.40,61.9)(21.70,62.1)(22.00,62.0)(22.32,61.6)(22.51,61.0)(22.66,60.7)(22.84,60.0)(22.99,59.0)(23.17,58.8)(23.25,58.3)(23.54,57.4)(23.76,57.4)(24.00,57.0)
};
\addplot[draw=none, name path=lo, forget plot] coordinates {
(12.31,54.5)(12.40,52.5)(12.50,51.5)(12.60,51)(12.70,51.5)(12.80,52.5)(12.88,56)(12.94,55)(13.00,50.5)(13.05,49.5)(13.20,49.2)(13.35,50)(13.50,48.8)(13.65,50)(13.80,49.5)(14.00,50)
(14.10,51.5)(14.20,51.5)(14.30,50.8)(14.40,49.2)(14.50,49.5)(14.70,49.5)(14.90,50.2)(15.05,51.2)(15.15,50.5)(15.25,49.0)(15.40,49.8)(15.55,51)(15.70,51.3)(15.90,52.2)(16.00,52.2)(16.23,52.2)
(16.50,53.6)(16.77,55.0)(17.01,56.0)(17.38,56.8)(17.62,57.4)(17.85,58.0)(18.04,58.3)(18.28,58.4)(18.49,58.6)(18.61,58.0)(18.75,55.9)(18.89,53.5)(18.98,52.0)(19.08,53)(19.17,53.0)(19.35,53.6)
(19.50,55.2)(19.67,55.5)(19.82,56.6)(20.00,57.0)(20.30,58.1)(20.55,58.5)(20.89,59.1)(21.11,59.4)(21.40,59.9)(21.70,60.1)(22.00,60.0)(22.32,59.6)(22.51,59.0)(22.66,58.7)(22.84,58.0)(22.99,57.0)
(23.17,56.7)(23.54,55.5)(23.76,55.5)(24.00,55.0)
};
\addplot[fill=env, fill opacity=0.7, draw=none, forget plot] fill between[of=up and lo];
\addplot[dbZ, line width=0.6pt, legend image post style={line width=1.1pt}] coordinates {
(0,54.7)(12.31,54.7)(12.33,55.9)(12.37,56.3)(12.40,56.1)(12.46,56.3)(12.51,55.7)(12.58,55.5)(12.63,55.0)(12.67,55.3)(12.72,55.0)(12.76,55.4)(12.81,55.7)(12.84,57.8)(12.88,61.2)(12.91,61.4)
(12.94,59.3)(12.98,55.0)(13.04,52.6)(13.09,52.8)(13.14,52.1)(13.21,52.1)(13.28,53.1)(13.35,54.0)(13.42,53.3)(13.49,51.9)(13.56,52.3)(13.63,53.8)(13.69,54.1)(13.74,53.5)(13.79,52.5)(13.85,53.1)
(13.92,52.7)(13.99,53.8)(14.02,55.0)(14.07,56.9)(14.13,56.7)(14.21,56.4)(14.30,55.5)(14.37,54.3)(14.44,53.5)(14.50,52.8)(14.57,53.1)(14.65,53.2)(14.72,53.3)(14.79,53.1)(14.85,53.5)(14.88,52.8)
(14.93,52.6)(14.97,53.1)(15.01,55.0)(15.04,56.4)(15.09,56.4)(15.15,55.0)(15.20,53.1)(15.25,51.6)(15.30,52.6)(15.36,53.1)(15.43,52.6)(15.48,53.3)(15.55,54.5)(15.65,54.0)(15.74,53.6)(15.88,53.3)
(16.00,53.1)(16.12,53.6)(16.23,53.1)(16.40,53.9)(16.54,54.7)(16.77,56.0)(17.01,57.0)(17.15,57.2)(17.38,57.8)(17.62,58.4)(17.85,59.0)(18.04,59.3)(18.28,59.4)(18.49,59.6)(18.61,59.0)(18.75,56.9)
(18.89,54.0)(18.97,52.95)(19.00,52.8)(19.04,53.9)(19.10,54.2)(19.13,53.8)(19.23,54.2)(19.34,54.9)(19.43,55.4)(19.50,56.3)(19.67,56.5)(19.82,57.6)(20.00,58.0)(20.15,58.9)(20.30,59.1)(20.55,59.5)
(20.77,59.6)(20.89,60.1)(21.11,60.4)(21.40,60.9)(21.70,61.1)(22.00,61.0)(22.14,60.7)(22.32,60.6)(22.51,60.0)(22.66,59.7)(22.84,59.0)(22.99,58.0)(23.17,57.7)(23.25,57.3)(23.54,56.5)(23.76,56.5)
(23.84,56.1)(24.00,56.0)
};
\addlegendentry{dB(Z)}
\addplot[dbC, line width=0.6pt, legend image post style={line width=1.1pt}] coordinates {
(0,50.1)(12.31,50.1)(12.33,52.1)(12.37,53.1)(12.40,53.1)(12.46,51.6)(12.51,50.2)(12.58,49.96)(12.63,50.2)(12.69,49.8)(12.74,49.5)(12.79,49.7)(12.83,51.2)(12.86,55.0)(12.90,58.8)(12.92,59.8)
(12.95,56.9)(12.98,53.1)(13.04,50.2)(13.09,49.96)(13.14,50.2)(13.21,49.7)(13.27,49.3)(13.32,50.2)(13.37,50.7)(13.42,50.2)(13.49,49.5)(13.56,50.2)(13.63,51.2)(13.69,51.7)(13.74,50.9)(13.79,50.7)
(13.85,51.2)(13.90,50.4)(13.95,51.1)(14.00,50.7)(14.06,50.2)(14.11,50.6)(14.16,49.96)(14.21,51.2)(14.27,52.2)(14.32,51.6)(14.37,51.2)(14.43,50.2)(14.48,49.2)(14.55,49.7)(14.62,50.2)(14.69,49.96)
(14.76,50.2)(14.83,50.7)(14.90,50.2)(14.95,51.2)(15.01,53.1)(15.03,54.5)(15.08,53.5)(15.13,51.6)(15.18,49.7)(15.25,49.0)(15.32,48.8)(15.39,48.5)(15.44,48.3)(15.50,48.8)(15.53,49.3)(15.60,49.3)
(15.69,49.5)(15.79,48.3)(16.00,48.2)(16.08,48.4)(16.12,49.2)(16.17,48.3)(16.30,48.4)(16.45,48.2)(16.56,49.2)(16.63,48.3)(16.77,49.2)(16.84,48.3)(17.00,48.4)(17.15,49.3)(17.22,48.3)(17.35,48.3)
(17.43,49.0)(17.50,48.3)(17.62,48.3)(17.71,49.1)(17.78,48.3)(17.90,48.3)(18.02,49.0)(18.10,48.3)(18.16,48.5)(18.23,49.2)(18.30,48.3)(18.42,48.4)(18.49,49.0)(18.56,48.2)(18.82,48.2)(18.90,47.9)
(18.97,47.5)(19.04,49.0)(19.10,49.1)(19.13,47.9)(19.23,47.6)(19.40,47.8)(19.48,49.4)(19.55,47.6)(19.77,48.3)(19.85,47.6)(20.00,48.7)(20.09,48.4)(20.15,48.7)(20.20,48.2)(20.28,48.9)(20.34,48.05)
(20.45,47.9)(20.55,49.2)(20.64,47.8)(20.77,47.8)(20.85,49.4)(20.94,48.05)(21.03,48.05)(21.14,49.2)(21.21,48.4)(21.32,48.3)(21.40,49.1)(21.47,48.2)(21.62,48.3)(21.70,49.6)(21.77,48.3)(21.92,48.5)
(22.01,49.8)(22.10,48.6)(22.21,48.5)(22.30,49.5)(22.39,48.4)(22.50,48.3)(22.58,49.7)(22.66,48.9)(22.73,48.8)(22.79,48.2)(22.88,49.4)(22.95,48.3)(23.06,48.3)(23.15,49.6)(23.24,48.4)(23.35,48.4)
(23.45,49.3)(23.52,48.2)(23.65,48.4)(23.76,49.5)(23.84,48.4)(24.00,48.2)
};
\addlegendentry{dB(C)}
\addplot[dbA, line width=0.6pt, legend image post style={line width=1.1pt}] coordinates {
(0,45.2)(12.31,45.2)(12.33,46.4)(12.37,46.5)(12.40,45.0)(12.44,41.6)(12.49,38.2)(12.53,36.8)(12.56,37.8)(12.62,37.7)(12.65,37.0)(12.69,39.1)(12.72,38.5)(12.76,36.0)(12.79,35.5)(12.83,38.9)
(12.86,43.6)(12.90,50.7)(12.92,53.5)(12.95,50.2)(12.98,43.6)(13.02,37.8)(13.05,35.5)(13.09,37.0)(13.11,35.5)(13.49,35.5)(13.52,37.8)(13.56,40.2)(13.60,41.6)(13.65,43.5)(13.69,44.0)(13.72,42.0)
(13.76,39.6)(13.79,37.3)(13.83,38.3)(13.87,38.5)(13.90,37.8)(13.94,39.6)(13.97,39.8)(14.00,37.8)(14.04,39.1)(14.07,40.1)(14.11,39.1)(14.14,38.2)(14.20,39.6)(14.25,43.3)(14.29,42.1)(14.32,39.8)
(14.36,40.1)(14.39,39.1)(14.43,35.5)(14.48,35.5)(14.51,37.8)(14.55,38.7)(14.60,39.1)(14.64,38.4)(14.67,36.8)(14.72,38.7)(14.76,40.1)(14.79,41.0)(14.83,39.1)(14.86,41.0)(14.90,38.7)(14.93,41.6)
(14.97,44.5)(15.01,46.4)(15.03,45.5)(15.06,43.6)(15.10,39.8)(15.13,36.9)(15.15,35.5)(18.10,35.5)(18.20,36.3)(18.30,35.5)(18.45,35.5)(18.50,36.4)(18.55,35.5)(20.45,35.5)(20.55,36.6)(20.65,36.2)
(20.85,37.0)(20.95,36.3)(21.05,36.8)(21.14,37.3)(21.25,36.7)(21.40,37.3)(21.50,36.6)(21.60,36.8)(21.70,37.7)(21.80,36.8)(21.90,36.8)(22.01,37.7)(22.10,36.6)(22.20,36.5)(22.30,37.1)(22.40,36.2)
(22.50,36.2)(22.58,37.1)(22.66,35.9)(22.85,35.7)(22.88,36.2)(22.92,35.5)(24.00,35.5)
};
\addlegendentry{dB(A)}
\end{axis}
\begin{axis}[rightaxis, at={(19.33pt,-383pt)}, anchor=south west]
\addplot[draw=none] coordinates {(0,40)(1,40)};
\end{axis}
\path (0,0) rectangle (800pt,-400pt);
\end{tikzpicture}
\end{document}
